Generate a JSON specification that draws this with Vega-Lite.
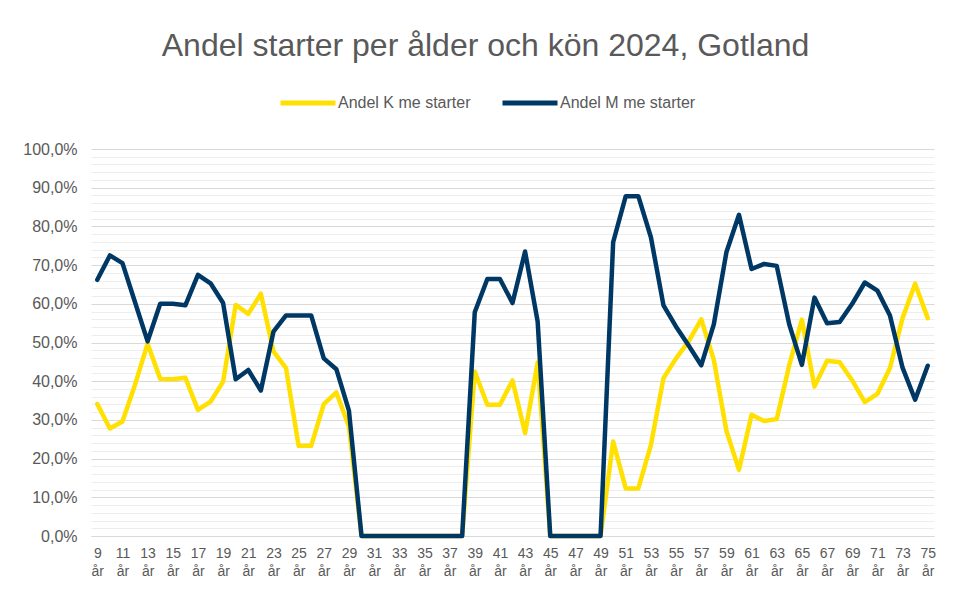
{
  "$schema": "https://vega.github.io/schema/vega-lite/v6.json",
  "width": 843,
  "height": 387,
  "autosize": "none",
  "padding": {"left": 91, "top": 149, "right": 21, "bottom": 58},
  "background": "white",
  "title": {
    "text": "Andel starter per ålder och kön 2024, Gotland",
    "font": "Liberation Sans",
    "fontSize": 32,
    "fontWeight": "normal",
    "color": "#595959",
    "anchor": "middle",
    "frame": "group",
    "dx": -27,
    "offset": 10
  },
  "config": {
    "view": {"stroke": null},
    "font": "Liberation Sans",
    "axis": {"labelFont": "Liberation Sans", "labelColor": "#595959", "ticks": false, "title": null},
    "legend": {"labelFont": "Liberation Sans"}
  },
  "data": {
    "values": [
      {"age": 9, "K": 0.341, "M": 0.662},
      {"age": 10, "K": 0.278, "M": 0.725},
      {"age": 11, "K": 0.296, "M": 0.705},
      {"age": 12, "K": 0.391, "M": 0.604},
      {"age": 13, "K": 0.497, "M": 0.503},
      {"age": 14, "K": 0.406, "M": 0.600},
      {"age": 15, "K": 0.405, "M": 0.600},
      {"age": 16, "K": 0.409, "M": 0.596},
      {"age": 17, "K": 0.326, "M": 0.675},
      {"age": 18, "K": 0.347, "M": 0.653},
      {"age": 19, "K": 0.399, "M": 0.602},
      {"age": 20, "K": 0.597, "M": 0.405},
      {"age": 21, "K": 0.574, "M": 0.429},
      {"age": 22, "K": 0.626, "M": 0.376},
      {"age": 23, "K": 0.477, "M": 0.528},
      {"age": 24, "K": 0.434, "M": 0.570},
      {"age": 25, "K": 0.233, "M": 0.570},
      {"age": 26, "K": 0.233, "M": 0.570},
      {"age": 27, "K": 0.341, "M": 0.459},
      {"age": 28, "K": 0.371, "M": 0.431},
      {"age": 29, "K": 0.283, "M": 0.324},
      {"age": 30, "K": 0, "M": 0},
      {"age": 31, "K": 0, "M": 0},
      {"age": 32, "K": 0, "M": 0},
      {"age": 33, "K": 0, "M": 0},
      {"age": 34, "K": 0, "M": 0},
      {"age": 35, "K": 0, "M": 0},
      {"age": 36, "K": 0, "M": 0},
      {"age": 37, "K": 0, "M": 0},
      {"age": 38, "K": 0, "M": 0},
      {"age": 39, "K": 0.425, "M": 0.578},
      {"age": 40, "K": 0.339, "M": 0.664},
      {"age": 41, "K": 0.339, "M": 0.664},
      {"age": 42, "K": 0.402, "M": 0.602},
      {"age": 43, "K": 0.266, "M": 0.735},
      {"age": 44, "K": 0.448, "M": 0.554},
      {"age": 45, "K": 0, "M": 0},
      {"age": 46, "K": 0, "M": 0},
      {"age": 47, "K": 0, "M": 0},
      {"age": 48, "K": 0, "M": 0},
      {"age": 49, "K": 0, "M": 0},
      {"age": 50, "K": 0.244, "M": 0.759},
      {"age": 51, "K": 0.123, "M": 0.878},
      {"age": 52, "K": 0.123, "M": 0.878},
      {"age": 53, "K": 0.235, "M": 0.772},
      {"age": 54, "K": 0.408, "M": 0.596},
      {"age": 55, "K": 0.459, "M": 0.541},
      {"age": 56, "K": 0.503, "M": 0.492},
      {"age": 57, "K": 0.560, "M": 0.441},
      {"age": 58, "K": 0.455, "M": 0.547},
      {"age": 59, "K": 0.272, "M": 0.733},
      {"age": 60, "K": 0.171, "M": 0.830},
      {"age": 61, "K": 0.313, "M": 0.690},
      {"age": 62, "K": 0.297, "M": 0.703},
      {"age": 63, "K": 0.302, "M": 0.698},
      {"age": 64, "K": 0.442, "M": 0.546},
      {"age": 65, "K": 0.559, "M": 0.442},
      {"age": 66, "K": 0.386, "M": 0.616},
      {"age": 67, "K": 0.453, "M": 0.550},
      {"age": 68, "K": 0.449, "M": 0.553},
      {"age": 69, "K": 0.402, "M": 0.600},
      {"age": 70, "K": 0.346, "M": 0.655},
      {"age": 71, "K": 0.367, "M": 0.634},
      {"age": 72, "K": 0.434, "M": 0.570},
      {"age": 73, "K": 0.563, "M": 0.435},
      {"age": 74, "K": 0.652, "M": 0.352},
      {"age": 75, "K": 0.563, "M": 0.440}
    ]
  },
  "transform": [{"fold": ["K", "M"], "as": ["series", "value"]}],
  "mark": {"type": "line", "strokeWidth": 4.5, "strokeJoin": "round", "strokeCap": "round"},
  "encoding": {
    "x": {
      "field": "age",
      "type": "ordinal",
      "scale": {"type": "point", "padding": 0.5},
      "axis": {
        "labelAngle": 0,
        "labelFontSize": 14,
        "labelOverlap": false,
        "labelPadding": 10,
        "labelLineHeight": 18,
        "labelExpr": "datum.value % 2 == 1 ? [datum.value + '', 'år'] : ''",
        "domain": true,
        "domainColor": "#D9D9D9",
        "grid": false
      }
    },
    "y": {
      "field": "value",
      "type": "quantitative",
      "scale": {"domain": [0, 1], "nice": false},
      "axis": {
        "values": [0, 0.02, 0.04, 0.06, 0.08, 0.1, 0.12, 0.14, 0.16, 0.18, 0.2, 0.22, 0.24, 0.26, 0.28, 0.3, 0.32, 0.34, 0.36, 0.38, 0.4, 0.42, 0.44, 0.46, 0.48, 0.5, 0.52, 0.54, 0.56, 0.58, 0.6, 0.62, 0.64, 0.66, 0.68, 0.7, 0.72, 0.74, 0.76, 0.78, 0.8, 0.82, 0.84, 0.86, 0.88, 0.9, 0.92, 0.94, 0.96, 0.98, 1],
        "labelExpr": "round(datum.value * 100) % 10 == 0 ? replace(format(datum.value, '.1%'), '.', ',') : ''",
        "labelFontSize": 16,
        "labelPadding": 14,
        "domain": false,
        "grid": true,
        "gridColor": {"condition": {"test": "round(datum.value * 100) % 10 == 0", "value": "#D9D9D9"}, "value": "#EDEDED"},
        "gridWidth": 1.2
      }
    },
    "color": {
      "field": "series",
      "type": "nominal",
      "scale": {"domain": ["K", "M"], "range": ["#FFE000", "#003865"]},
      "legend": {
        "title": null,
        "orient": "none",
        "legendX": 187,
        "legendY": -76,
        "direction": "horizontal",
        "symbolType": "stroke",
        "symbolSize": 3025,
        "symbolStrokeWidth": 5,
        "labelFontSize": 16,
        "labelColor": "#595959",
        "labelOffset": 0,
        "columnPadding": 21,
        "labelExpr": "datum.label == 'K' ? 'Andel K me starter' : 'Andel M me starter'"
      }
    }
  }
}
